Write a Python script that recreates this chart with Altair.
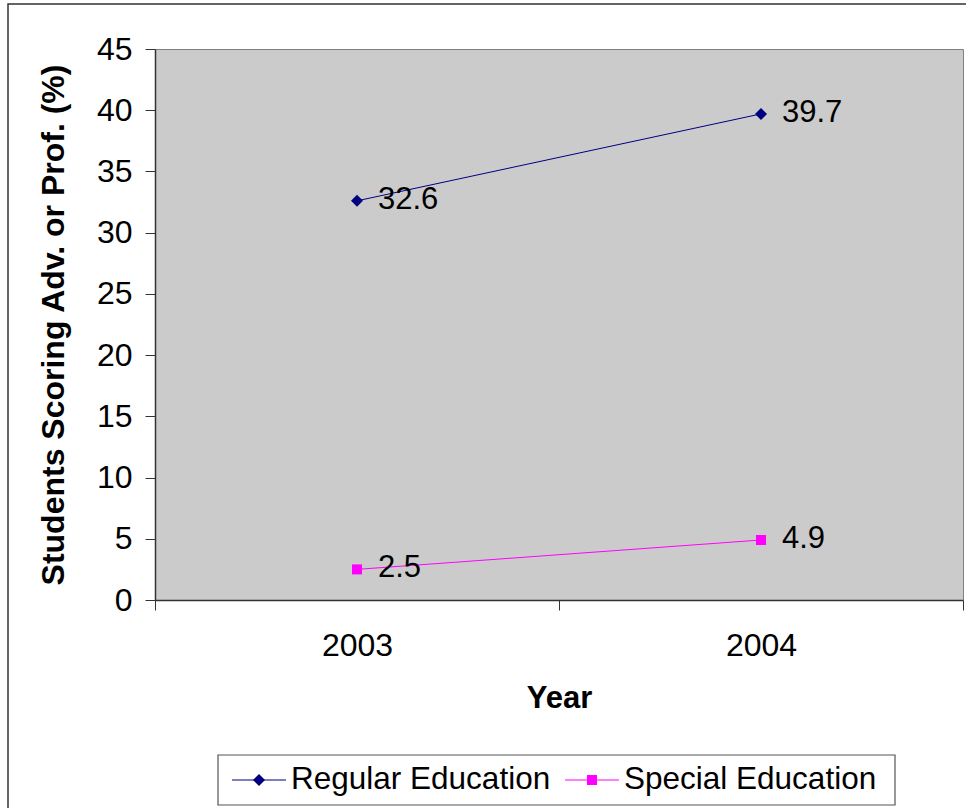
import altair as alt
import pandas as pd

# Percent of students scoring Advanced or Proficient, by year and program
YEARS = [2003, 2004]
SERIES = ["Regular Education", "Special Education"]
REGULAR = [32.6, 39.7]
SPECIAL = [2.5, 4.9]

COLORS = ["#000080", "#FF00FF"]
MARKERS = ["diamond", "square"]
MARKER_SIZES = [144, 100]
Y_TICKS = list(range(0, 50, 5))
X_TICKS = [2002.5, 2003, 2003.5, 2004, 2004.5]

rows = []
for name, vals in zip(SERIES, [REGULAR, SPECIAL]):
    for yr, v in zip(YEARS, vals):
        rows.append({"year": yr, "value": v, "series": name})
df = pd.DataFrame(rows)

FONT = "Liberation Sans"
AXIS_COLOR = "#333333"

x_enc = alt.X(
    "year:Q",
    scale=alt.Scale(domain=[2002.5, 2004.5], nice=False, zero=False),
    axis=alt.Axis(
        values=X_TICKS,
        labelExpr="datum.value % 1 == 0 ? '' + datum.value : ''",
        tickOpacity={"condition": {"test": "datum.value % 1 == 0", "value": 0}, "value": 1},
        grid=False,
        tickSize=10,
        tickColor=AXIS_COLOR,
        domainColor=AXIS_COLOR,
        domainWidth=1.5,
        labelFont=FONT,
        labelFontSize=32,
        labelColor="black",
        labelBaseline="alphabetic",
        labelPadding=45,
        labelFlush=False,
        labelOverlap=False,
        title="Year",
        titleFont=FONT,
        titleFontSize=31,
        titleFontWeight="bold",
        titleColor="black",
        titleBaseline="alphabetic",
        titleAlign="center",
        titleX=404,
        titleY=107,
    ),
)

y_enc = alt.Y(
    "value:Q",
    scale=alt.Scale(domain=[0, 45], nice=False, zero=True),
    axis=alt.Axis(
        values=Y_TICKS,
        grid=False,
        tickSize=10,
        tickColor=AXIS_COLOR,
        domainColor=AXIS_COLOR,
        domainWidth=1.5,
        labelFont=FONT,
        labelFontSize=32,
        labelColor="black",
        labelPadding=13,
        title="Students Scoring Adv. or Prof. (%)",
        titleFont=FONT,
        titleFontSize=32,
        titleFontWeight="bold",
        titleColor="black",
        titleAngle=270,
        titleAlign="center",
        titleBaseline="alphabetic",
        titleX=-92,
        titleY=275.5,
        titleLimit=1000,
    ),
)

color_scale = alt.Scale(domain=SERIES, range=COLORS)

lines = alt.Chart(df).mark_line(strokeWidth=1).encode(
    x=x_enc,
    y=y_enc,
    color=alt.Color("series:N", scale=color_scale, legend=None),
    detail="series:N",
)

point_layers = []
for name, shape, size in zip(SERIES, MARKERS, MARKER_SIZES):
    point_layers.append(
        alt.Chart(df)
        .transform_filter(alt.datum.series == name)
        .mark_point(shape=shape, filled=True, size=size, opacity=1)
        .encode(
            x="year:Q",
            y="value:Q",
            color=alt.Color("series:N", scale=color_scale, legend=None),
        )
    )

labels = alt.Chart(df).mark_text(
    align="left", baseline="middle", dx=21, dy=-1, font=FONT, fontSize=31, color="black"
).encode(
    x="year:Q",
    y="value:Q",
    text=alt.Text("value:Q", format=".1f"),
)

# Legend below the x axis: a boxed row of line-and-marker keys with labels
LEGEND_LEFT, LEGEND_TOP, LEGEND_W, LEGEND_H = 63, 706, 677, 50
ENTRY_STEP = 333      # horizontal distance between the two keys
KEY_LEFT = 14         # key line start, from the box's left edge
KEY_LEN = 54
LABEL_GAP = 5
key_y = LEGEND_TOP + LEGEND_H / 2

legend_box = alt.Chart(alt.Data(values=[{}])).mark_rect(
    fill="transparent", stroke="#555555", strokeWidth=1.2
).encode(
    x=alt.value(LEGEND_LEFT), x2=alt.value(LEGEND_LEFT + LEGEND_W),
    y=alt.value(LEGEND_TOP), y2=alt.value(LEGEND_TOP + LEGEND_H),
)

legend_layers = []
for i, (name, color, shape, size) in enumerate(zip(SERIES, COLORS, MARKERS, MARKER_SIZES)):
    entry = alt.Data(values=[{"series": name}])
    x0 = LEGEND_LEFT + KEY_LEFT + i * ENTRY_STEP
    legend_layers.append(
        alt.Chart(entry).mark_rule(strokeWidth=1.2, color=color).encode(
            x=alt.value(x0), x2=alt.value(x0 + KEY_LEN), y=alt.value(key_y)
        )
    )
    legend_layers.append(
        alt.Chart(entry).mark_point(shape=shape, filled=True, size=size, opacity=1, color=color).encode(
            x=alt.value(x0 + KEY_LEN / 2), y=alt.value(key_y)
        )
    )
    legend_layers.append(
        alt.Chart(entry).mark_text(
            align="left", baseline="middle", font=FONT, fontSize=31.5, color="black"
        ).encode(
            x=alt.value(x0 + KEY_LEN + LABEL_GAP), y=alt.value(key_y), text="series:N"
        )
    )

# Outer frame around the whole figure
frame = alt.Chart(alt.Data(values=[{}])).mark_rect(
    fill="transparent", stroke="#333333", strokeWidth=1.5
).encode(
    x=alt.value(-147), x2=alt.value(830), y=alt.value(-45), y2=alt.value(780)
)

chart = (
    alt.layer(frame, legend_box, lines, *point_layers, labels, *legend_layers)
    .properties(
        width=808,
        height=551,
        autosize=alt.AutoSizeParams(type="none"),
        padding={"left": 155, "top": 49, "right": 3, "bottom": 208},
        background="white",
    )
    .configure_view(fill="#CBCBCB", stroke="#808080", strokeWidth=1)
)

chart.save("out.html", embed_options={"renderer": "svg", "actions": False})
